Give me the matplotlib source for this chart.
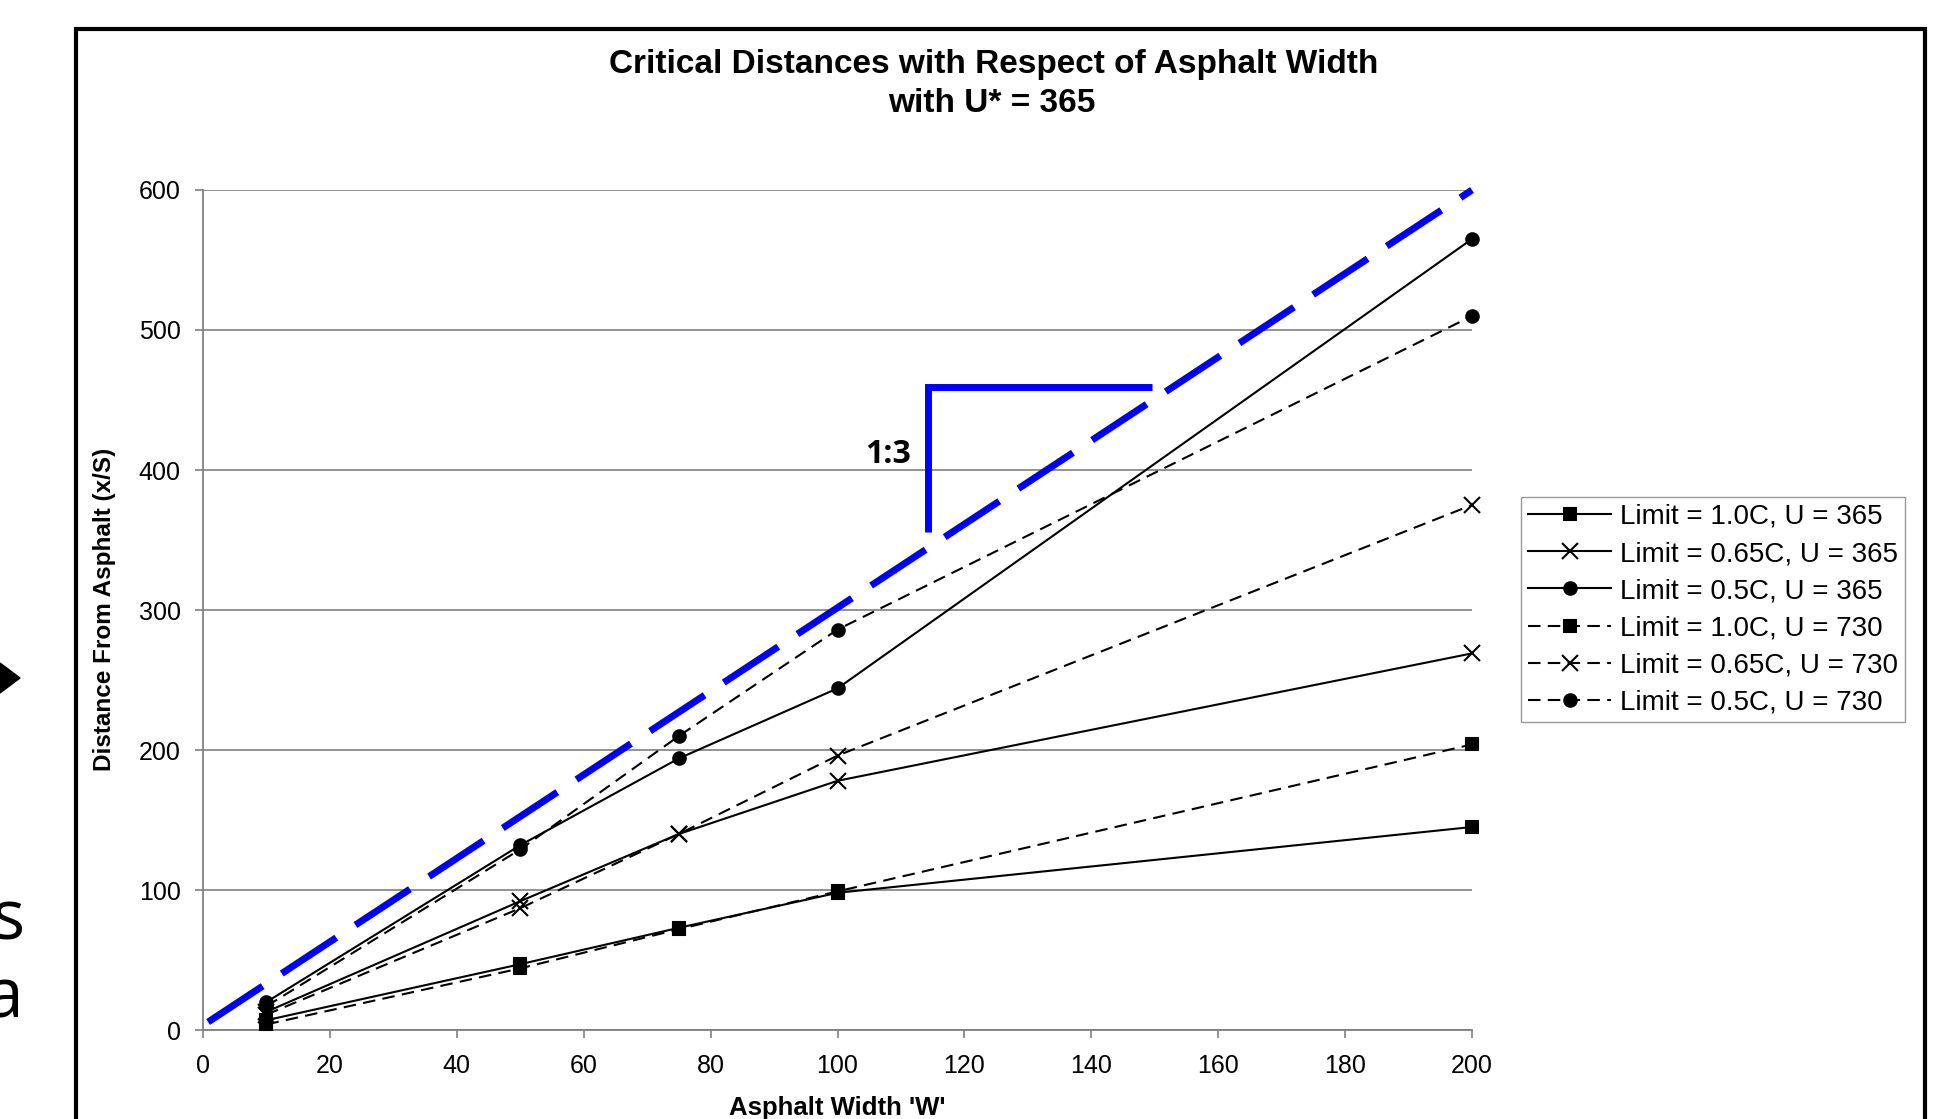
import matplotlib
matplotlib.use("Agg")
import matplotlib.pyplot as plt
from matplotlib.patches import Rectangle, Polygon

plt.rcParams['font.family'] = ['Liberation Sans', 'DejaVu Sans']

# asphalt width W
width = [10, 50, 75, 100, 200]

# distance from asphalt (x/S)
lim10_u365 = [7, 47, 73, 98, 145]
lim065_u365 = [13, 92, 140, 178, 269]
lim05_u365 = [20, 132, 194, 244, 565]
lim10_u730 = [4, 44, 72, 99, 204]
lim065_u730 = [11, 87, 140, 196, 375]
lim05_u730 = [17, 129, 210, 286, 510]

labels = ["Limit = 1.0C, U = 365", "Limit = 0.65C, U = 365", "Limit = 0.5C, U = 365",
          "Limit = 1.0C, U = 730", "Limit = 0.65C, U = 730", "Limit = 0.5C, U = 730"]

# 1:3 reference line and slope triangle
ref_x = [0.8, 200]
ref_y = [5.7, 600]
tri_x = [114.3, 114.3, 149.5]
tri_y = [356, 459, 459]

W, H = 1959, 1119
fig = plt.figure(figsize=(W / 100, H / 100), dpi=100)
fig.patch.set_facecolor('white')

def fx(px):
    return px / W

def fy(py):
    return 1 - py / H

ax = fig.add_axes([fx(203), fy(1030), fx(1472) - fx(203), fy(190) - fy(1030)])

series = [lim10_u365, lim065_u365, lim05_u365, lim10_u730, lim065_u730, lim05_u730]
markers = ['s', 'x', 'o', 's', 'x', 'o']
msizes = [9, 11.5, 9, 9, 11.5, 9]
for i, vals in enumerate(series):
    ls = '-' if i < 3 else (0, (6, 3.5))
    ax.plot(width, vals, color='black', lw=1.5, linestyle=ls, marker=markers[i],
            markersize=msizes[i], markeredgewidth=1.5, label=labels[i], clip_on=False, zorder=3)

ax.plot(ref_x, ref_y, color='#0000FF', lw=5, linestyle=(0, (9.4, 3.3)),
        dash_capstyle='butt', clip_on=False, zorder=4)
ax.plot(tri_x, tri_y, color='#0000FF', lw=5, solid_capstyle='butt',
        solid_joinstyle='miter', clip_on=False, zorder=4)
ax.text(111.6, 411, "1:3", fontsize=23, fontweight='bold', ha='right', va='center',
        family=['Open Sans', 'DejaVu Sans'])

ax.set_xlim(0, 200)
ax.set_ylim(0, 600)
ax.set_xticks(range(0, 201, 20))
ax.set_yticks(range(0, 601, 100))
ax.grid(axis='y', color='#808080', lw=1.2)
ax.set_axisbelow(True)
for s in ['top', 'right']:
    ax.spines[s].set_visible(False)
for s in ['left', 'bottom']:
    ax.spines[s].set_color('#808080')
    ax.spines[s].set_linewidth(1.3)
ax.tick_params(axis='x', direction='out', length=6, width=1.2, color='#808080',
               labelsize=18, pad=11)
ax.tick_params(axis='y', direction='out', length=6, width=1.2, color='#808080',
               labelsize=18, pad=10)

fig.text(fx(994), fy(64), "Critical Distances with Respect of Asphalt Width",
         fontsize=24, fontweight='bold', ha='center', va='center')
fig.text(fx(992), fy(104), "with U* = 365", fontsize=24, fontweight='bold',
         ha='center', va='center')
fig.text(fx(105), fy(609), "Distance From Asphalt (x/S)", fontsize=17.5,
         fontweight='bold', rotation=90, ha='center', va='center')
fig.text(fx(837), fy(1108), "Asphalt Width 'W'", fontsize=18.5, fontweight='bold',
         ha='center', va='center')

leg = fig.legend(loc='upper left', bbox_to_anchor=(fx(1521), fy(497)), fontsize=20,
                 frameon=True, fancybox=False, borderaxespad=0, handlelength=3.0,
                 handletextpad=0.3, labelspacing=0.4, borderpad=0.25)
leg.get_frame().set_edgecolor('#808080')
leg.get_frame().set_linewidth(1.0)

# outer chart frame
fig.patches.append(Rectangle((fx(76), -0.05), fx(1925) - fx(76), fy(29) + 0.05,
                             transform=fig.transFigure, fill=False, edgecolor='black',
                             lw=3, clip_on=False))

# cut-off slide fragments at left edge
fig.patches.append(Polygon([(fx(0), fy(663)), (fx(20), fy(678)), (fx(0), fy(693))],
                           closed=True, transform=fig.transFigure, color='black'))
fig.text(fx(25), fy(940), "s", fontsize=50, ha='right', va='baseline',
         family=['Open Sans', 'DejaVu Sans'])
fig.text(fx(23), fy(1018), "a", fontsize=50, ha='right', va='baseline',
         family=['Open Sans', 'DejaVu Sans'])

fig.savefig("out.png", dpi=100)
